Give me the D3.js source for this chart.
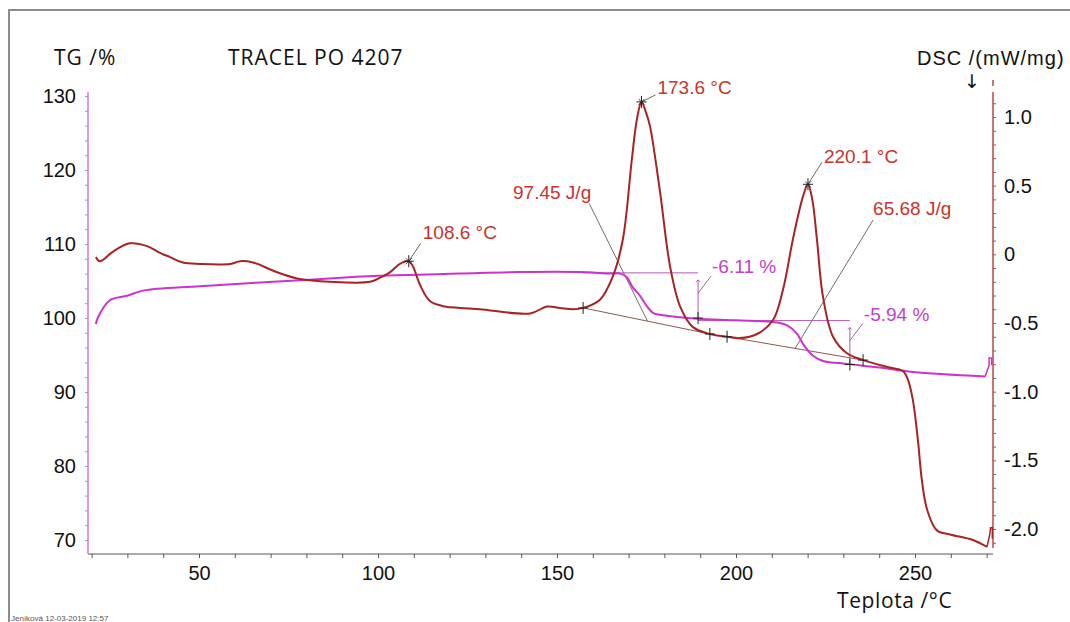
<!DOCTYPE html>
<html>
<head>
<meta charset="utf-8">
<script src="https://cdn.jsdelivr.net/npm/d3@7"></script>
<style>
  body { margin: 0; background: #fff; }
  svg { display: block; }
</style>
</head>
<body>
<svg id="chart" width="1070" height="622"></svg>
<script>
// TG curve [temperature °C, mass %]
const tgPoints = [
  [21.2, 99.2], [21.8, 100.1], [25.1, 102.4], [29.9, 103.0], [34.4, 103.7],
  [50.3, 104.3], [78.2, 105.1], [100, 105.7], [122.9, 106.0], [139.7, 106.2],
  [156.4, 106.2], [164.8, 106.0], [167.6, 106.0], [169.5, 105.5], [171.2, 104.1],
  [173.2, 103.0], [175.1, 101.6], [176.8, 100.7], [180.7, 100.3], [189.1, 99.9],
  [200, 99.7], [211.5, 99.4], [214.3, 99.0], [217.0, 97.9], [218.7, 96.5],
  [221.5, 94.9], [224.3, 94.2], [231.0, 93.8], [240.2, 93.3], [249.4, 92.7],
  [269.6, 92.1]
];
const tgTail = [[269.6, 92.1], [270.7, 93.6], [270.7, 94.6], [271.4, 94.6], [271.4, 93.6]];

// DSC curve [temperature °C, mW/mg]
const dscPoints = [
  [21.2, -0.02], [22.1, -0.05], [23.2, -0.04], [26.0, 0.02], [30.7, 0.08],
  [35.5, 0.06], [39.1, 0.01], [41.9, -0.02], [45.5, -0.06], [50.3, -0.07],
  [58.7, -0.07], [61.5, -0.05], [65.1, -0.06], [71.8, -0.13], [78.2, -0.18],
  [86.6, -0.20], [97.8, -0.20], [100.6, -0.17], [103.4, -0.13], [106.1, -0.07],
  [108.6, -0.05], [109.8, -0.09], [111.7, -0.22], [114.5, -0.34], [118.7, -0.38],
  [122.9, -0.39], [128.5, -0.40],
  [142.5, -0.43], [147.2, -0.38], [150.8, -0.39], [154.5, -0.40], [157.3, -0.39],
  [162.0, -0.33], [165.6, -0.16], [168.4, 0.11], [170.9, 0.69], [172.3, 0.98],
  [173.6, 1.11], [174.9, 1.03], [176.0, 0.93], [178.8, 0.45], [181.6, -0.09],
  [184.4, -0.38], [188.0, -0.53], [192.7, -0.58], [197.5, -0.60], [201.1, -0.61],
  [205.9, -0.58], [210.3, -0.48], [213.1, -0.26], [215.9, 0.11], [218.7, 0.42],
  [220.1, 0.51], [221.3, 0.40], [222.6, 0.11], [224.3, -0.31], [227.1, -0.60],
  [231.0, -0.72], [235.5, -0.77], [242.2, -0.82], [246.6, -0.85], [248.0, -0.91],
  [249.4, -1.06], [250.8, -1.35], [251.9, -1.64], [253.4, -1.86], [256.1, -2.01],
  [259.8, -2.04], [266.2, -2.08], [270.1, -2.13]
];
const dscTail = [[270.1, -2.13], [270.9, -2.04], [271.1, -1.99], [271.6, -1.99], [271.6, -2.07]];

// annotations
const peakLabels = [
  { t: 108.6, v: -0.05, text: "108.6 °C", dx: 12, dy: -18, ty: -22 },
  { t: 173.6, v: 1.11, text: "173.6 °C", dx: 14, dy: -7, ty: -8 },
  { t: 220.1, v: 0.51, text: "220.1 °C", dx: 14, dy: -22, ty: -21 }
];
const peakLimits = [
  { start: [157.3, -0.39], end: [192.7, -0.58], text: "97.45 J/g", label: [159.0, 0.37], hit: 175.3, anchor: "end" },
  { start: [197.5, -0.60], end: [235.5, -0.77], text: "65.68 J/g", label: [238.3, 0.25], hit: 216.5, anchor: "start" }
];
const massSteps = [
  { from: 157.3, at: 189.4, top: 106.1, bottom: 100.0, text: "-6.11 %" },
  { from: 189.4, at: 231.8, top: 99.65, bottom: 93.71, text: "-5.94 %" }
];

const xTicks = d3.range(20, 271, 10);
const tgTicks = d3.range(70, 131, 2);
const dscTicks = d3.range(-21, 12, 1).map(d => d / 10);

const redLine = "#a82323", redText = "#c8342c", magLine = "#cc33cc", magText = "#c23fc8";
const labelFont = "19px 'Liberation Sans', Arial, sans-serif";
const svg = d3.select("#chart");

const x = d3.scaleLinear().domain([50, 250]).range([199, 915]);
const yTG = d3.scaleLinear().domain([70, 130]).range([540, 96]);
const yDSC = d3.scaleLinear().domain([-2, 1]).range([529, 117]);

// frame
svg.append("rect")
  .attr("x", 9).attr("y", 10).attr("width", 1100).attr("height", 700)
  .attr("fill", "none").attr("stroke", "#8c8c8c").attr("stroke-width", 2);

// x axis
const xAxis = svg.append("g").attr("transform", "translate(0,554)")
  .call(d3.axisBottom(x).tickValues(xTicks).tickSize(4).tickPadding(8)
    .tickFormat(d => d % 50 === 0 ? d : ""));
xAxis.select(".domain").remove();
xAxis.append("line").attr("x1", 88).attr("x2", 993).attr("stroke", "#555");
xAxis.selectAll(".tick line").attr("stroke", "#555");
xAxis.selectAll("text").attr("fill", "#111").style("font", "20px 'Liberation Sans', Arial, sans-serif");

// left TG axis
const lAxis = svg.append("g").attr("transform", "translate(88,0)")
  .call(d3.axisLeft(yTG).tickValues(tgTicks).tickSize(3).tickPadding(9)
    .tickFormat(d => d % 10 === 0 ? d : ""));
lAxis.select(".domain").remove();
lAxis.append("line").attr("y1", 92).attr("y2", 554).attr("stroke", "#d27ad2").attr("stroke-width", 1.5);
lAxis.selectAll(".tick line").attr("stroke", "#d27ad2");
lAxis.selectAll("text").attr("fill", "#111").style("font", "20px 'Liberation Sans', Arial, sans-serif");

// right DSC axis
const fmt = d => Math.abs(d) < 1e-9 ? "0" : d.toFixed(1);
const rAxis = svg.append("g").attr("transform", "translate(993,0)")
  .call(d3.axisRight(yDSC).tickValues(dscTicks).tickSize(3).tickPadding(8)
    .tickFormat(d => Math.abs(Math.round(d * 10) % 5) === 0 ? fmt(d) : ""));
rAxis.select(".domain").remove();
rAxis.append("line").attr("y1", 92).attr("y2", 548).attr("stroke", "#b64a4a").attr("stroke-width", 1.5);
rAxis.append("line").attr("y1", 80).attr("y2", 86).attr("stroke", "#b64a4a").attr("stroke-width", 1.5);
rAxis.selectAll(".tick line").attr("stroke", "#b64a4a");
rAxis.selectAll("text").attr("fill", "#111").style("font", "20px 'Liberation Sans', Arial, sans-serif");

// titles
const title = (tx, ty, str, font) => svg.append("text")
  .attr("x", tx).attr("y", ty)
  .attr("fill", "#111").style("font", font).text(str);
title(54, 65, "TG /%", "21px 'Open Sans', Lato, sans-serif").style("letter-spacing", "1px");
title(228, 65, "TRACEL PO 4207", "21px 'Open Sans', Lato, sans-serif").style("letter-spacing", "1px");
title(917, 65, "DSC /(mW/mg)", "20px 'Liberation Sans', Arial, sans-serif").style("letter-spacing", "1px");
title(964, 88, "↓", "19px 'DejaVu Sans', sans-serif");
title(837, 608, "Teplota /°C", "21px 'Open Sans', Lato, sans-serif").style("letter-spacing", "0.6px");
title(11, 621, "Jeníková   12-03-2019 12:57", "8px 'Liberation Sans', Arial, sans-serif").attr("fill", "#555");

// curves
const lineTG = d3.line().x(d => x(d[0])).y(d => yTG(d[1])).curve(d3.curveCatmullRom.alpha(0.5));
const lineDSC = d3.line().x(d => x(d[0])).y(d => yDSC(d[1])).curve(d3.curveCatmullRom.alpha(0.5));
const tailTG = d3.line().x(d => x(d[0])).y(d => yTG(d[1]));
const tailDSC = d3.line().x(d => x(d[0])).y(d => yDSC(d[1]));

// annotation helper lines drawn below the curves
const ann = svg.append("g");

// DSC baselines and enthalpy labels
peakLimits.forEach(p => {
  ann.append("line")
    .attr("x1", x(p.start[0])).attr("y1", yDSC(p.start[1]))
    .attr("x2", x(p.end[0])).attr("y2", yDSC(p.end[1]))
    .attr("stroke", "#8a5a4e").attr("stroke-width", 1);
  const f = (p.hit - p.start[0]) / (p.end[0] - p.start[0]);
  const hv = p.start[1] + f * (p.end[1] - p.start[1]);
  ann.append("line")
    .attr("x1", x(p.label[0])).attr("y1", yDSC(p.label[1]))
    .attr("x2", x(p.hit)).attr("y2", yDSC(hv))
    .attr("stroke", "#7a6a66").attr("stroke-width", 1);
  ann.append("text")
    .attr("x", x(p.label[0]) + (p.anchor === "end" ? 2 : 0))
    .attr("y", yDSC(p.label[1]) - 5)
    .attr("text-anchor", p.anchor)
    .attr("fill", redText).style("font", labelFont)
    .text(p.text);
});

// TG step brackets
massSteps.forEach(s => {
  const xa = x(s.at);
  ann.append("line").attr("x1", x(s.from)).attr("x2", xa)
    .attr("y1", yTG(s.top)).attr("y2", yTG(s.top))
    .attr("stroke", "#b25ab2").attr("stroke-width", 1);
  const yt = yTG(s.top) + 7, yb = yTG(s.bottom);
  ann.append("path").attr("d", `M${xa},${yt}V${yb}M${xa - 2},${yt + 2}L${xa},${yt}L${xa + 2},${yt + 2}`)
    .attr("fill", "none").attr("stroke", "#b25ab2").attr("stroke-width", 1);
  const ym = yt + (yb - yt) * 0.35;
  ann.append("line").attr("x1", xa).attr("y1", ym).attr("x2", xa + 13).attr("y2", ym - 17)
    .attr("stroke", "#9a6a9a").attr("stroke-width", 1);
});

// curves
svg.append("path").datum(tgPoints).attr("d", lineTG)
  .attr("fill", "none").attr("stroke", magLine).attr("stroke-width", 2);
svg.append("path").datum(tgTail).attr("d", tailTG)
  .attr("fill", "none").attr("stroke", magLine).attr("stroke-width", 1.5);
svg.append("path").datum(dscPoints).attr("d", lineDSC)
  .attr("fill", "none").attr("stroke", redLine).attr("stroke-width", 2);
svg.append("path").datum(dscTail).attr("d", tailDSC)
  .attr("fill", "none").attr("stroke", redLine).attr("stroke-width", 1.5);

// markers on top
const markG = svg.append("g");
const topCross = (cx, cy) => markG.append("path")
  .attr("d", `M${cx - 5},${cy}H${cx + 5}M${cx},${cy - 6}V${cy + 6}`)
  .attr("stroke", "#222").attr("stroke-width", 1);
peakLimits.forEach(p => {
  topCross(x(p.start[0]), yDSC(p.start[1]));
  topCross(x(p.end[0]), yDSC(p.end[1]));
});
massSteps.forEach(s => {
  topCross(x(s.at), yTG(s.bottom));
  const ym = yTG(s.top) + 7 + (yTG(s.bottom) - yTG(s.top) - 7) * 0.35;
  markG.append("text").attr("x", x(s.at) + 14).attr("y", ym - 20)
    .attr("fill", magText).style("font", labelFont)
    .text(s.text);
});
peakLabels.forEach(p => {
  const px = x(p.t), py = yDSC(p.v);
  markG.append("line").attr("x1", px).attr("y1", py).attr("x2", px + p.dx).attr("y2", py + p.dy)
    .attr("stroke", "#666").attr("stroke-width", 1);
  topCross(px, py);
  markG.append("path").attr("d", `M${px - 3},${py - 3}L${px + 3},${py + 3}M${px - 3},${py + 3}L${px + 3},${py - 3}`)
    .attr("stroke", "#222").attr("stroke-width", 0.8);
  markG.append("text").attr("x", px + p.dx + 2).attr("y", py + p.ty)
    .attr("fill", redText).style("font", labelFont)
    .text(p.text);
});
</script>
</body>
</html>
